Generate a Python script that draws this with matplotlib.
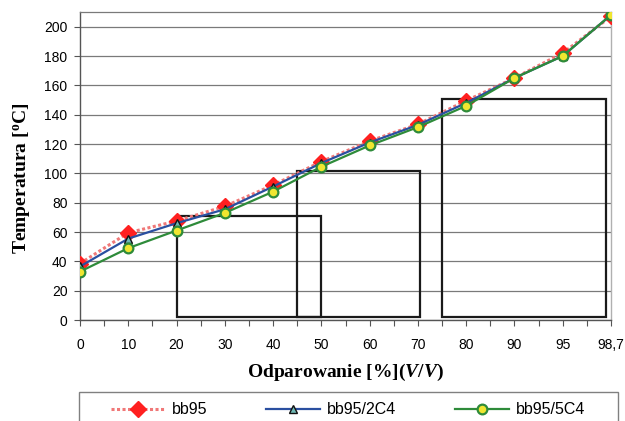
import matplotlib
matplotlib.use("Agg")
import matplotlib.pyplot as plt
from matplotlib.patches import Rectangle

plt.rcParams["mathtext.fontset"] = "custom"
plt.rcParams["mathtext.it"] = "Liberation Serif:italic:bold"
plt.rcParams["mathtext.rm"] = "Liberation Serif:bold"
plt.rcParams["mathtext.bf"] = "Liberation Serif:bold"

categories = ["0", "10", "20", "30", "40", "50", "60", "70", "80", "90", "95", "98,7"]
bb95 = [38.5, 59.5, 67.5, 77.5, 92, 108, 122, 133.5, 149.5, 165, 182, 207]
bb95_2c4 = [36.5, 55.5, 66, 75.5, 91, 107, 121, 133, 148, 165, 180, 208]
bb95_5c4 = [33, 49, 61, 73, 87.5, 104.5, 119, 131.5, 146, 165, 180, 208]

# boxes drawn over the plot (category-index units, temperature units)
box_x0 = [2.0, 4.5, 7.5]
box_x1 = [5.0, 7.05, 10.9]
box_top = [71, 101.5, 151]
box_bottom = [2, 2, 2]

W, H = 625, 421
fig = plt.figure(figsize=(W / 100, H / 100), dpi=100)
ax = fig.add_axes([80 / W, 1 - 320 / H, (611 - 80) / W, (320 - 12) / H])

x = list(range(len(categories)))

ax.set_xlim(0, len(categories) - 1)
ax.set_ylim(0, 210)
ax.set_yticks(range(0, 201, 20))
ax.yaxis.grid(True, color="#7a7a7a", linewidth=0.9, zorder=0)
ax.set_axisbelow(True)

for x0, x1, t, b in zip(box_x0, box_x1, box_top, box_bottom):
    ax.add_patch(Rectangle((x0, b), x1 - x0, t - b, fill=False,
                           edgecolor="#1a1a1a", linewidth=1.6, zorder=1.5))

ax.plot(x, bb95, color="#f07878", linestyle=(0, (1, 0.8)), linewidth=2.2,
        marker="D", markersize=8, markerfacecolor="#ff2020",
        markeredgecolor="#ff2020", zorder=3, label="bb95")
ax.plot(x, bb95_2c4, color="#2a4fa0", linestyle="-", linewidth=1.6,
        marker="^", markersize=6, markerfacecolor="#6fb8b4",
        markeredgecolor="#111111", markeredgewidth=1.0, zorder=4, label="bb95/2C4")
ax.plot(x, bb95_5c4, color="#2e8b3a", linestyle="-", linewidth=1.6,
        marker="o", markersize=7, markerfacecolor="#f0e630",
        markeredgecolor="#2e8b3a", markeredgewidth=1.6, zorder=5, label="bb95/5C4")

ax.set_xticks(x)
ax.set_xticklabels(categories)
ax.set_xticks([i + 0.5 for i in x[:-1]], minor=True)
ax.tick_params(axis="x", which="both", direction="out", length=4, width=0.8,
               color="#555555", pad=9, labelsize=10)
ax.tick_params(axis="y", direction="out", length=4, width=0.8,
               color="#555555", pad=5, labelsize=10)
for lab in ax.get_xticklabels() + ax.get_yticklabels():
    lab.set_fontfamily("Liberation Sans")

for s in ["left", "bottom"]:
    ax.spines[s].set_color("#555555")
    ax.spines[s].set_linewidth(1.0)
ax.spines["top"].set_color("#7a7a7a")
ax.spines["top"].set_linewidth(0.9)
ax.spines["right"].set_color("#b0b0b0")
ax.spines["right"].set_linewidth(1.0)

fig.text(22 / W, 1 - 178 / H, "Temperatura [$^{\\mathregular{o}}$C]", rotation=90,
         ha="center", va="center", fontsize=14, fontweight="bold",
         family="Liberation Serif")
fig.text(345 / W, 1 - 372 / H, "Odparowanie [%]($\\mathit{V/V}$)",
         ha="center", va="center", fontsize=14, fontweight="bold",
         family="Liberation Serif")

# legend box
fig.patches.append(Rectangle((79 / W, -0.05), (618 - 79) / W, 0.05 + 1 - 392 / H,
                             transform=fig.transFigure, fill=False,
                             edgecolor="#808080", linewidth=1.0))
handles, labels = ax.get_legend_handles_labels()
leg = fig.legend(handles, labels, loc="center", ncol=3,
                 bbox_to_anchor=(348 / W, 1 - 410 / H), frameon=False,
                 prop={"family": "Liberation Sans", "size": 11.5},
                 handlelength=3.4, handletextpad=0.4, columnspacing=3.7)

fig.savefig("out.png", dpi=100)
